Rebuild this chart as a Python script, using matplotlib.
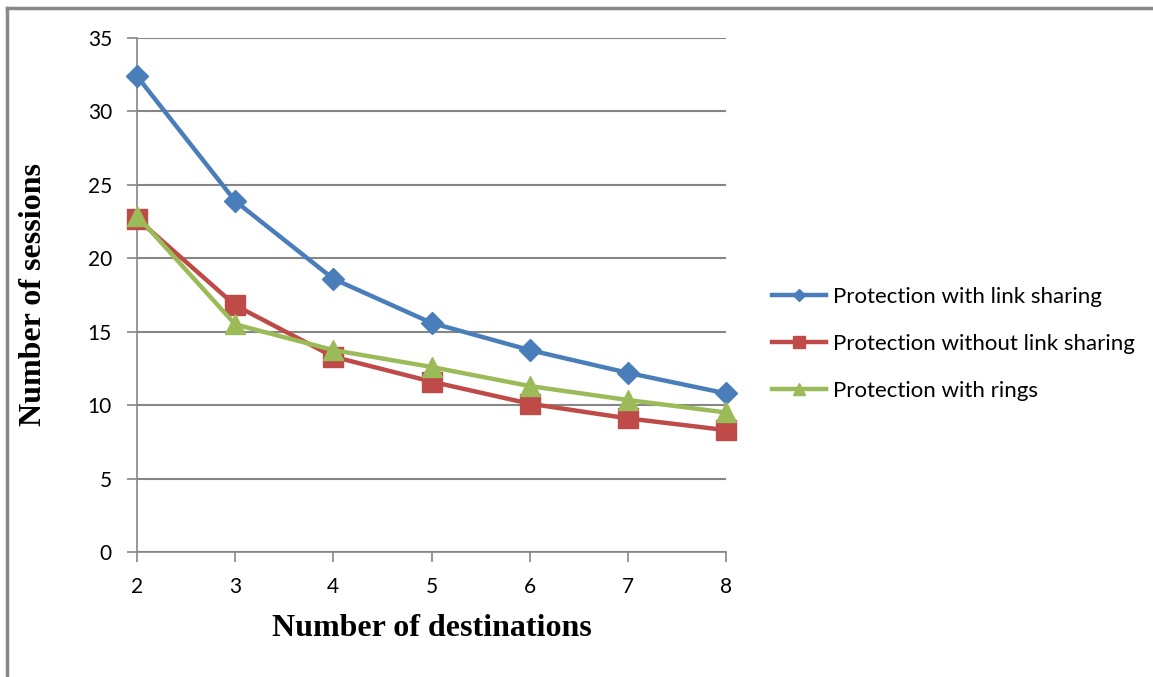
import matplotlib
matplotlib.use("Agg")
import matplotlib.pyplot as plt
from matplotlib.lines import Line2D

destinations = [2, 3, 4, 5, 6, 7, 8]
with_link_sharing = [32.4, 23.9, 18.6, 15.6, 13.75, 12.2, 10.8]
without_link_sharing = [22.7, 16.8, 13.3, 11.6, 10.1, 9.1, 8.3]
with_rings = [22.9, 15.5, 13.75, 12.6, 11.3, 10.35, 9.5]
labels = ["Protection with link sharing",
          "Protection without link sharing",
          "Protection with rings"]
y_ticks = [0, 5, 10, 15, 20, 25, 30, 35]

grid_gray = "#868686"

fig = plt.figure(figsize=(11.53, 6.77), dpi=100)
ax = fig.add_axes([0.1188, 0.1846, 0.5109, 0.7593])

ax.plot(destinations, with_link_sharing, color="#4A7EBB", lw=3.2,
        marker="D", markersize=11, label=labels[0], zorder=3, clip_on=False)
ax.plot(destinations, without_link_sharing, color="#BE4B48", lw=3.2,
        marker="s", markersize=14, label=labels[1], zorder=3, clip_on=False)
ax.plot(destinations, with_rings, color="#9BBB59", lw=3.2,
        marker="^", markersize=15, label=labels[2], zorder=4, clip_on=False)

ax.set_xlim(2, 8)
ax.set_ylim(0, 35)
ax.set_xticks(destinations)
ax.set_yticks(y_ticks)
ax.yaxis.grid(True, color=grid_gray, lw=1.5)
ax.set_axisbelow(True)
for side in ["top", "right"]:
    ax.spines[side].set_visible(False)
for side in ["left", "bottom"]:
    ax.spines[side].set_color(grid_gray)
    ax.spines[side].set_linewidth(1.2)
ax.tick_params(axis="both", length=7, width=1.2, color=grid_gray,
               labelsize=15, pad=11)
for lab in ax.get_xticklabels() + ax.get_yticklabels():
    lab.set_family("Lato")

fig.text(0.3747, 0.072, "Number of destinations", ha="center", va="center",
         family="Liberation Serif", weight="bold", fontsize=23)
fig.text(0.029, 0.565, "Number of sessions", ha="center", va="center",
         rotation=90, family="Liberation Serif", weight="bold", fontsize=23)

leg = ax.legend(loc="center left", bbox_to_anchor=(1.059, 0.405),
                frameon=False, prop={"family": "Lato", "size": 16},
                borderpad=0, handlelength=2.45, handletextpad=0.3,
                labelspacing=1.2, markerscale=0.6)

# frame lines along the top and left edges
fig.add_artist(Line2D([0.006, 1.0], [0.988, 0.988], color="#888888", lw=2.5,
                      transform=fig.transFigure))
fig.add_artist(Line2D([0.0063, 0.0063], [0.0, 0.988], color="#888888", lw=2.5,
                      transform=fig.transFigure))

fig.savefig("out.png", dpi=100)
